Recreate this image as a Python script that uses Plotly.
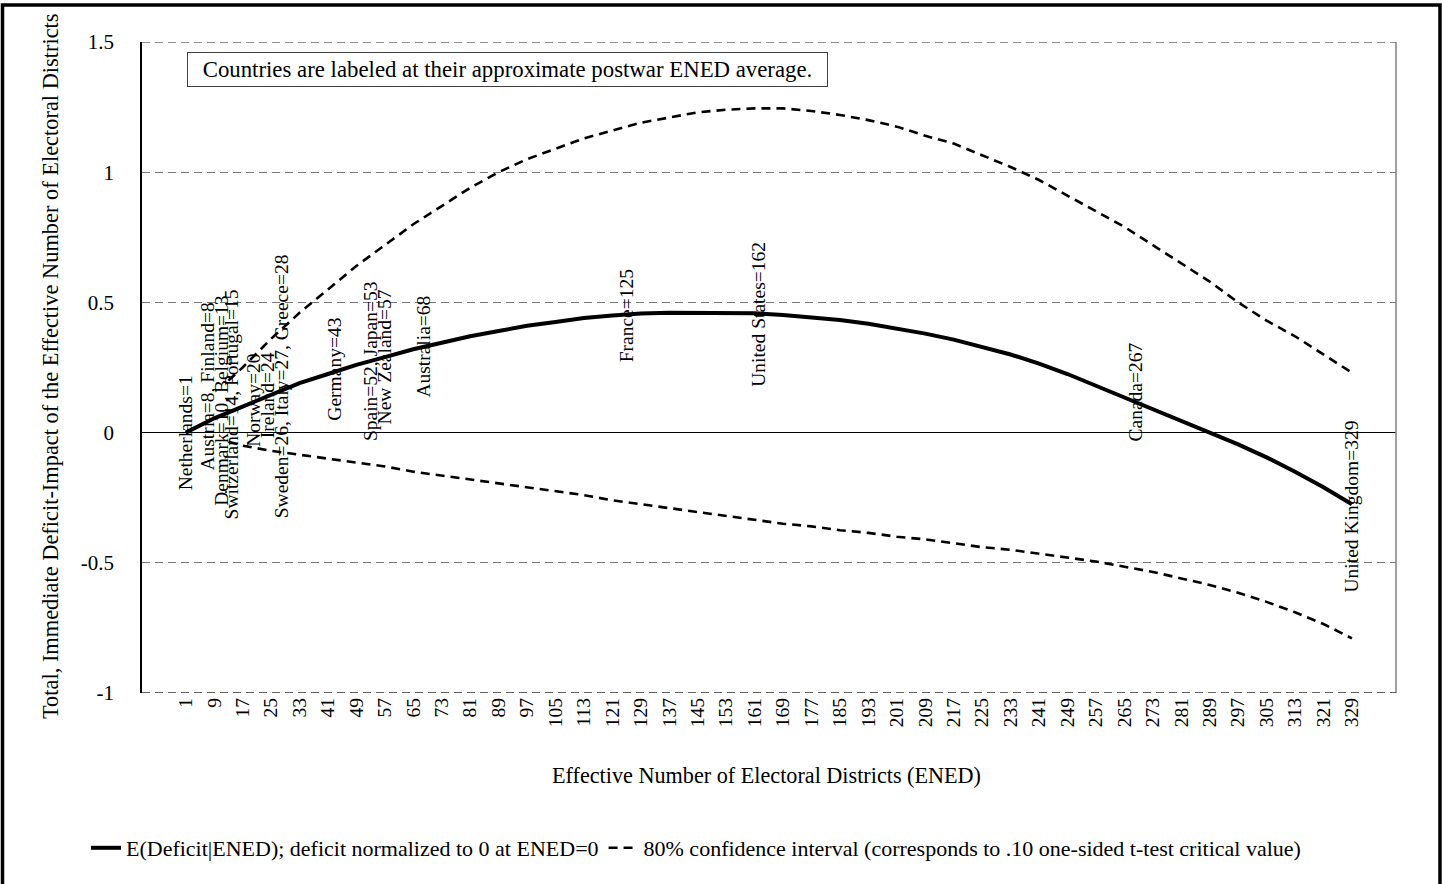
import plotly.graph_objects as go

# ---------------- data ----------------
ened = list(range(1, 330, 8))
mean_deficit = [0.0, 0.055, 0.10, 0.145, 0.19, 0.225, 0.26, 0.29, 0.32, 0.345,
                0.37, 0.39, 0.41, 0.425, 0.44, 0.45, 0.457, 0.46, 0.46, 0.46,
                0.458, 0.452, 0.443, 0.432, 0.418, 0.40, 0.38, 0.357, 0.33, 0.30,
                0.265, 0.225, 0.18, 0.135, 0.09, 0.045, 0.0, -0.045, -0.095, -0.15,
                -0.21, -0.275]

ci_ened = [13] + list(range(17, 330, 8))
ci_upper = [0.20, 0.25, 0.36, 0.46, 0.55, 0.64, 0.72, 0.80, 0.87, 0.94,
            1.00, 1.05, 1.09, 1.13, 1.16, 1.19, 1.21, 1.23, 1.24, 1.245,
            1.245, 1.235, 1.22, 1.20, 1.175, 1.14, 1.11, 1.065, 1.02, 0.97,
            0.91, 0.85, 0.79, 0.72, 0.65, 0.58, 0.50, 0.43, 0.37, 0.30, 0.23]
ci_lower = [-0.035, -0.05, -0.07, -0.085, -0.10, -0.115, -0.13, -0.15, -0.165, -0.18,
            -0.195, -0.21, -0.225, -0.24, -0.26, -0.275, -0.29, -0.305, -0.32, -0.335,
            -0.35, -0.36, -0.375, -0.385, -0.40, -0.41, -0.425, -0.44, -0.45, -0.465,
            -0.48, -0.495, -0.515, -0.535, -0.56, -0.585, -0.615, -0.65, -0.69, -0.735, -0.79]

country_labels = ["Netherlands=1", "Austria=8, Finland=8", "Denmark=10, Belgium=13",
                  "Switzerland=14, Portugal=15", "Norway=20", "Ireland=24",
                  "Sweden=26, Italy=27, Greece=28", "Germany=43", "Spain=52, Japan=53",
                  "New Zealand=57", "Australia=68", "France=125", "United States=162",
                  "Canada=267", "United Kingdom=329"]
label_ened = [1, 7, 11, 14, 20, 24, 28, 43, 53, 57, 68, 125, 162, 268, 329]
label_value = [0.0, 0.177, 0.123, 0.108, 0.123, 0.142, 0.177, 0.242, 0.273, 0.292,
               0.330, 0.449, 0.453, 0.154, -0.284]

y_ticks = [-1, -0.5, 0, 0.5, 1, 1.5]
y_ticktext = ["-1", "-0.5", "0", "0.5", "1", "1.5"]

# ---------------- layout geometry ----------------
W, H = 1442, 884
L, R, T, B = 142, 46, 42, 191
PW, PH = W - L - R, H - T - B
FONT = "Liberation Serif, Times New Roman, serif"


def px_x(p):
    return (p - L) / PW


def px_y(p):
    return (H - B - p) / PH


fig = go.Figure()
fig.add_trace(go.Scatter(
    x=ened, y=mean_deficit, mode="lines",
    line=dict(color="black", width=4),
    name="E(Deficit|ENED); deficit normalized to 0 at ENED=0"))
fig.add_trace(go.Scatter(
    x=ci_ened, y=ci_upper, mode="lines",
    line=dict(color="black", width=2.6, dash="9px,6px"),
    legendgroup="ci",
    name="80% confidence interval (corresponds to .10 one-sided t-test critical value)"))
fig.add_trace(go.Scatter(
    x=ci_ened, y=ci_lower, mode="lines",
    line=dict(color="black", width=2.6, dash="9px,6px"),
    legendgroup="ci", showlegend=False,
    name="80% confidence interval (lower)"))

annotations = []
for t, xv, yv in zip(country_labels, label_ened, label_value):
    annotations.append(dict(x=xv, y=yv, xref="x", yref="y", text=t, textangle=-90,
                            showarrow=False, xanchor="center", yanchor="middle",
                            font=dict(family=FONT, size=19.5, color="black")))

annotations.append(dict(
    x=px_x(507.5), y=px_y(69.5), xref="paper", yref="paper",
    text="Countries are labeled at their approximate postwar ENED average.",
    showarrow=False, xanchor="center", yanchor="middle",
    width=633, height=27, align="center",
    bordercolor="#404040", borderwidth=1, borderpad=3, bgcolor="white",
    font=dict(family=FONT, size=22.8, color="black")))

annotations.append(dict(
    x=px_x(50), y=px_y(721), xref="paper", yref="paper",
    text="Total, Immediate Deficit-Impact of the Effective Number of Electoral Districts",
    textangle=-90, showarrow=False, xanchor="center", yanchor="bottom",
    font=dict(family=FONT, size=22.4, color="black")))

annotations.append(dict(
    x=px_x(766), y=px_y(775), xref="paper", yref="paper",
    text="Effective Number of Electoral Districts (ENED)",
    showarrow=False, xanchor="center", yanchor="middle",
    font=dict(family=FONT, size=22.2, color="black")))

shapes = [
    # right edge of plot area
    dict(type="line", xref="paper", yref="paper", x0=1, x1=1, y0=0, y1=1,
         line=dict(color="#808080", width=1.5)),
    # top and bottom gridlines at the range ends
    dict(type="line", xref="paper", yref="y", x0=0, x1=1, y0=y_ticks[-1], y1=y_ticks[-1],
         line=dict(color="#6a6a6a", width=1.3, dash="8px,5px")),
    dict(type="line", xref="paper", yref="y", x0=0, x1=1, y0=y_ticks[0], y1=y_ticks[0],
         line=dict(color="#303030", width=1.5, dash="8px,5px")),
    # outer figure frame
    dict(type="rect", xref="paper", yref="paper",
         x0=px_x(2.5), x1=px_x(1440), y0=px_y(900), y1=px_y(5),
         line=dict(color="black", width=3.5)),
]

fig.update_layout(
    width=W, height=H,
    margin=dict(l=L, r=R, t=T, b=B, pad=0),
    paper_bgcolor="white", plot_bgcolor="white",
    font=dict(family=FONT, size=21, color="black"),
    showlegend=True,
    legend=dict(orientation="h", xref="container", yref="container",
                x=86 / W, y=1 - 848 / H, xanchor="left", yanchor="middle",
                font=dict(family=FONT, size=22, color="black"),
                bgcolor="rgba(0,0,0,0)", borderwidth=0, itemwidth=30,
                tracegroupgap=0),
    annotations=annotations,
    shapes=shapes,
)

fig.update_xaxes(
    range=[-11.3, 341.4], tickmode="array", tickvals=ened,
    ticktext=[str(v) for v in ened], tickangle=-90,
    tickfont=dict(family=FONT, size=19.5, color="black"),
    showgrid=False, zeroline=False, showline=False, ticks="", ticklen=0,
)
fig.update_yaxes(
    range=[-1, 1.5], tickmode="array", tickvals=y_ticks, ticktext=y_ticktext,
    tickfont=dict(family=FONT, size=21, color="black"),
    showgrid=True, gridcolor="#7a7a7a", gridwidth=1, griddash="8px,5px",
    zeroline=True, zerolinecolor="black", zerolinewidth=1.3,
    showline=True, linecolor="black", linewidth=1.5,
    ticks="", ticklabelstandoff=22,
)

fig.write_html("out.html")
